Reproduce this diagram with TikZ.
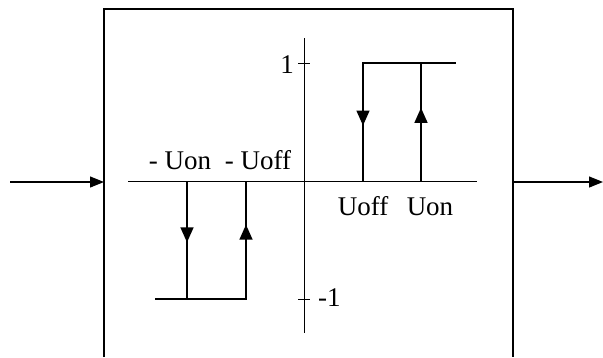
\documentclass[tikz,border=0pt]{standalone}
\usepackage{fontspec}
\setmainfont{Liberation Serif}
\usetikzlibrary{arrows.meta,decorations.markings}
\tikzset{
  lbl/.style={font=\fontsize{27}{32}\selectfont,inner sep=0pt},
  loopline/.style={line width=1.4pt},
  midarrow/.style={postaction={decorate},decoration={markings,
    mark=at position #1 with {\arrow{Triangle[length=15pt,width=13pt]}}}}
}
\begin{document}
\begin{tikzpicture}[x=1pt,y=-1pt]
\useasboundingbox (0,0) rectangle (603,357);
% block
\draw[line width=1.4pt] (104,357) -- (104,9) -- (513,9) -- (513,357);
\coordinate (in) at (10,182); \coordinate (boxL) at (104,182);
\coordinate (boxR) at (513,182); \coordinate (out) at (603,182);
\draw[line width=1.2pt,-{Triangle[length=14pt,width=11pt]}] (in) -- (boxL);
\draw[line width=1.2pt,-{Triangle[length=14pt,width=11pt]}] (boxR) -- (out);
% axes
\coordinate (xl) at (128,181); \coordinate (xr) at (477,181);
\coordinate (yt) at (304,38); \coordinate (yb) at (304,333);
\draw[line width=0.9pt] (xl) -- (xr);
\draw[line width=0.9pt] (yt) -- (yb);
\draw[line width=0.9pt] (298,63) -- (310,63);
\draw[line width=0.9pt] (298,299) -- (310,299);
\node[lbl,anchor=east] (one) at (294,65) {1};
\node[lbl,anchor=west] (mone) at (318,298) {-1};
% positive loop
\coordinate (p1) at (363,181); \coordinate (p2) at (363,63);
\coordinate (p3) at (421,63); \coordinate (p4) at (421,181);
\coordinate (p5) at (456,63);
\draw[loopline] (p1) |- (p5);
\draw[loopline,midarrow=0.53] (p2) -- (p1);
\draw[loopline,midarrow=0.62] (p4) -- (p3);
% negative loop
\coordinate (n1) at (187,181); \coordinate (n2) at (187,299);
\coordinate (n3) at (246,181); \coordinate (n4) at (246,299);
\coordinate (n0) at (155,299);
\draw[loopline] (n0) -- (n4) -- (n3);
\draw[loopline,midarrow=0.52] (n1) -- (n2);
\draw[loopline,midarrow=0.63] (n4) -- (n3);
% labels
\node[lbl,anchor=base] (lnon) at (180,169) {- Uon};
\node[lbl,anchor=base] (lnoff) at (258,169) {- Uoff};
\node[lbl,anchor=base] (lpoff) at (363,215) {Uoff};
\node[lbl,anchor=base] (lpon) at (430,215) {Uon};
\end{tikzpicture}
\end{document}
